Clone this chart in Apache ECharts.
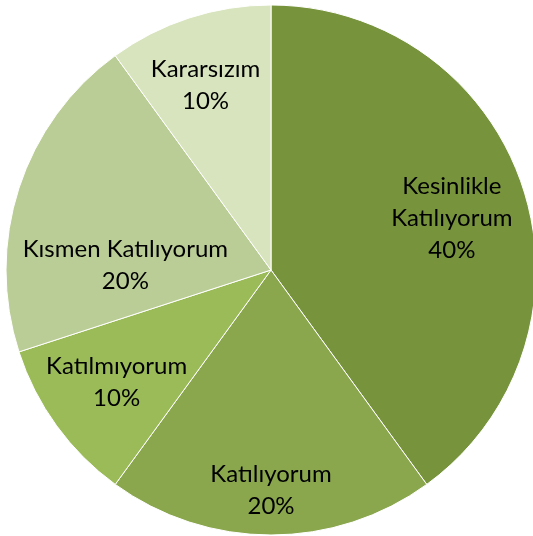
<!DOCTYPE html>
<html><head><meta charset="utf-8">
<script src="https://cdn.jsdelivr.net/npm/echarts@6/dist/echarts.min.js"></script>
<style>html,body{margin:0;padding:0;background:#fff}#c{width:533px;height:536px}</style>
</head><body><div id="c"></div>
<script>
const categories = ['Kesinlikle\nKatılıyorum', 'Katılıyorum', 'Katılmıyorum', 'Kısmen Katılıyorum', 'Kararsızım'];
const values = [40, 20, 10, 20, 10];
const colors = ['#77933c', '#8aa74e', '#9bbb59', '#bbcd96', '#d7e4bd'];
// label placement (fraction of radius, angle shift in degrees) mimicking Excel best fit
const labelRadius = [0.71, 0.83, 0.72, 0.55, 0.74];
const labelShift = [2, 0, 0, -16, -1.5];

const CX = 271, CY = 270, R = 265;
const total = values.reduce((a, b) => a + b, 0);
const mids = [];
let acc = 0;
values.forEach(v => { mids.push((acc + v / 2) / total * 360); acc += v; });

const chart = echarts.init(document.getElementById('c'));
chart.setOption({
  animation: false,
  series: [{
    type: 'pie',
    center: [CX, CY],
    radius: [0, R],
    startAngle: 90,
    clockwise: true,
    itemStyle: { borderColor: '#ffffff', borderWidth: 1 },
    label: {
      position: 'inside',
      formatter: p => p.name + '\n' + p.value + '%',
      fontFamily: 'Lato',
      fontSize: 24,
      lineHeight: 32,
      color: '#000000',
      align: 'center'
    },
    labelLine: { show: false },
    labelLayout: function (p) {
      const i = p.dataIndex;
      const a = (mids[i] + labelShift[i]) * Math.PI / 180;
      const rr = labelRadius[i] * R;
      return {
        x: CX + rr * Math.sin(a),
        y: CY - rr * Math.cos(a),
        align: 'center',
        verticalAlign: 'middle'
      };
    },
    emphasis: { disabled: true },
    data: categories.map((c, i) => ({ name: c, value: values[i], itemStyle: { color: colors[i] } }))
  }]
});
</script></body></html>
